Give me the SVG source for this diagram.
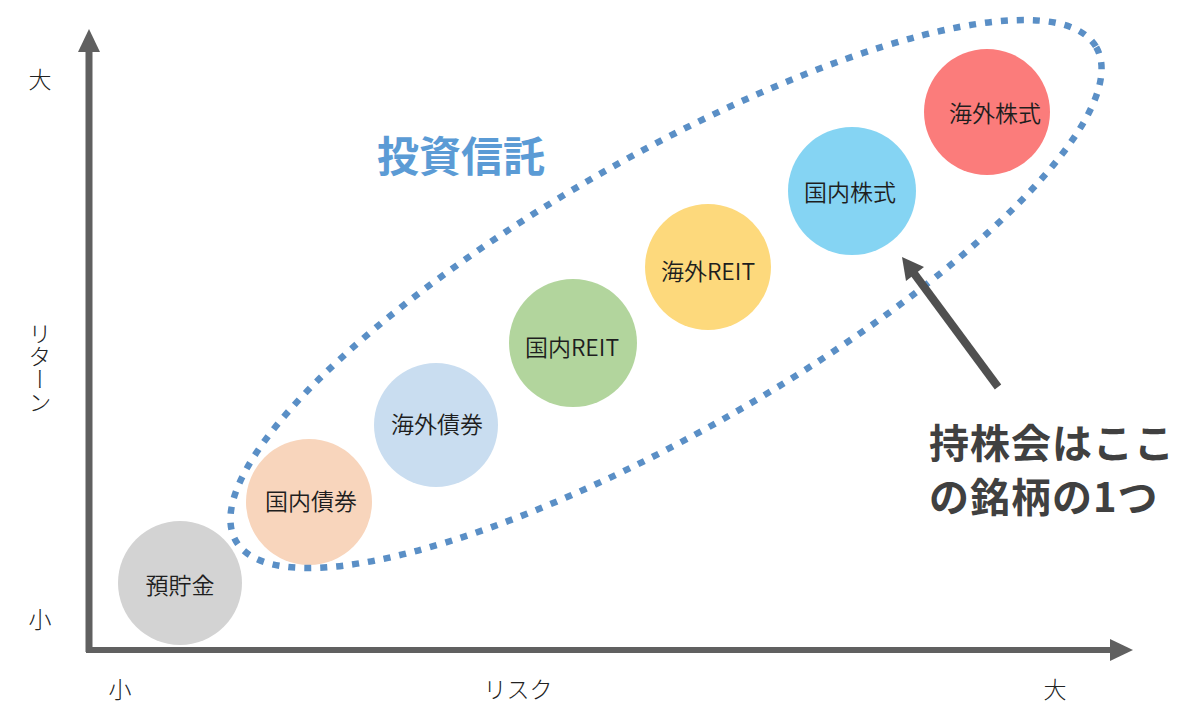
<svg xmlns="http://www.w3.org/2000/svg" width="1200" height="728" viewBox="0 0 1200 728">
<style>
.ax{font-family:"Noto Sans CJK JP","Noto Sans",sans-serif;font-size:23px;fill:#222;font-weight:300}
.lbl{font-family:"Noto Sans CJK JP","Noto Sans",sans-serif;font-size:23px;fill:#1e1e1e;text-anchor:middle;dominant-baseline:central;font-weight:350}
.title{font-family:"Noto Sans CJK JP",sans-serif;font-weight:700;font-size:42px;fill:#5b9bd5}
.note{font-family:"Noto Sans CJK JP",sans-serif;font-weight:700;font-size:40px;letter-spacing:1px;fill:#404040}
</style>
<rect width="1200" height="728" fill="#ffffff"/>
<g id="axes">
<line x1="89" y1="652" x2="89" y2="50" stroke="#606060" stroke-width="7"/>
<polygon points="89,29 78,52 100,52" fill="#606060"/>
<line x1="86" y1="650" x2="1112" y2="650" stroke="#606060" stroke-width="6"/>
<polygon points="1133,650 1110,639 1110,661" fill="#606060"/>
</g>
<g id="axis-labels">
<text class="ax" x="40" y="88" text-anchor="middle">大</text>
<text class="ax" x="40" y="322" style="writing-mode:vertical-rl" text-anchor="start">リターン</text>
<text class="ax" x="40" y="628" text-anchor="middle">小</text>
<text class="ax" x="120" y="698" text-anchor="middle">小</text>
<text class="ax" x="518" y="698" text-anchor="middle">リスク</text>
<text class="ax" x="1055" y="698" text-anchor="middle">大</text>
</g>
<g id="n-yochokin"><circle cx="180" cy="583" r="62" fill="#d3d3d3"/><text class="lbl" x="180" y="584">預貯金</text></g>
<g id="n-kokunai-saiken"><circle cx="309" cy="502" r="63" fill="#f8d5bc"/><text class="lbl" x="311" y="500">国内債券</text></g>
<g id="n-kaigai-saiken"><circle cx="436" cy="425" r="62" fill="#c9ddf0"/><text class="lbl" x="437" y="423">海外債券</text></g>
<g id="n-kokunai-reit"><circle cx="573" cy="343" r="64" fill="#b2d59d"/><text class="lbl" x="572" y="346">国内REIT</text></g>
<g id="n-kaigai-reit"><circle cx="708" cy="267" r="63" fill="#fdd97c"/><text class="lbl" x="708" y="270">海外REIT</text></g>
<g id="n-kokunai-kabu"><circle cx="852" cy="191" r="64" fill="#85d4f3"/><text class="lbl" x="850" y="191">国内株式</text></g>
<g id="n-kaigai-kabu"><circle cx="987" cy="112" r="63" fill="#fb7c7b"/><text class="lbl" x="995" y="112">海外株式</text></g>
<g id="toushin">
<ellipse cx="666" cy="294" rx="496" ry="137" transform="rotate(-29.85 666 294)" fill="none" stroke="#5a8fc6" stroke-width="6.5" stroke-dasharray="7 9"/>
<text class="title" x="461" y="172" text-anchor="middle">投資信託</text>
</g>
<g id="connectors">
<line x1="998" y1="387" x2="913" y2="272" stroke="#505050" stroke-width="8"/>
<polygon points="902,257 924,267 906,281" fill="#505050"/>
</g>
<g id="note">
<text class="note" x="929" y="458">持株会はここ</text>
<text class="note" x="929" y="512">の銘柄の1つ</text>
</g>
</svg>
